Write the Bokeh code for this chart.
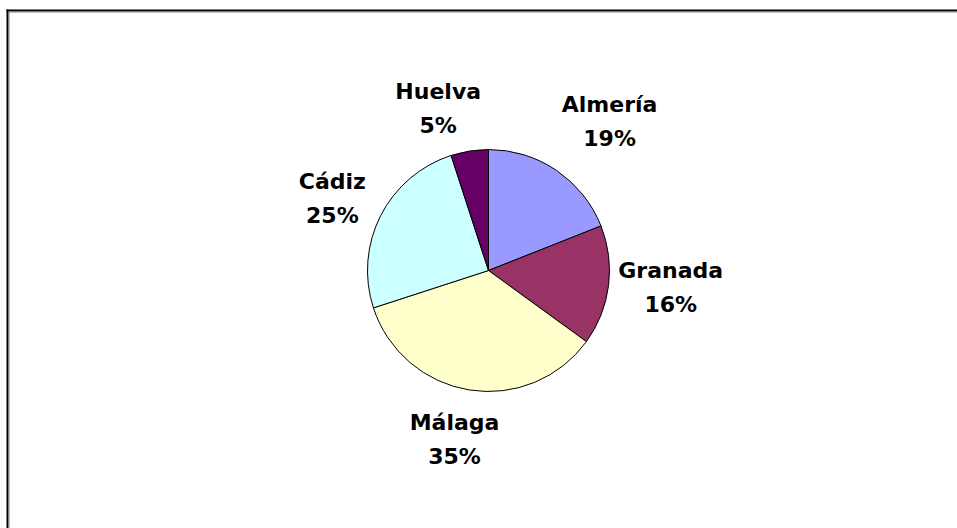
import math
from bokeh.plotting import figure
from bokeh.models import Range1d, ColumnDataSource
from bokeh.core.properties import value
from bokeh.embed import file_html
from bokeh.resources import INLINE

# ---- data ----
provinces = ["Almería", "Granada", "Málaga", "Cádiz", "Huelva"]
shares = [19, 16, 35, 25, 5]
pct_labels = ["19%", "16%", "35%", "25%", "5%"]
colors = ["#9999FF", "#993366", "#FFFFCC", "#CCFFFF", "#660066"]

# ---- layout (pixels) ----
W, H = 957, 528
CX, CY = 488, 258          # pie centre (y measured upward)
R = 121
label_dist = [192, 183, 172, 172, 170]
label_turn = [4.9, -1.9, 2.4, -2.2, -8.2]   # degrees
HALF_GAP = 17
FRAME_L, FRAME_T = 6, 9    # frame position (from left / from top)

total = float(sum(shares))
starts, ends = [], []
acc = 0.0
for s in shares:
    starts.append(acc / total)
    acc += s
    ends.append(acc / total)

start_ang = [math.pi / 2 - 2 * math.pi * f for f in starts]
end_ang = [math.pi / 2 - 2 * math.pi * f for f in ends]

lx, ly_name, ly_pct = [], [], []
for i in range(len(shares)):
    phi = math.radians(360 * (starts[i] + ends[i]) / 2 + label_turn[i])
    x = CX + label_dist[i] * math.sin(phi)
    y = CY + label_dist[i] * math.cos(phi)
    lx.append(x)
    ly_name.append(y + HALF_GAP)
    ly_pct.append(y - HALF_GAP)

src = ColumnDataSource(dict(
    x=[CX] * len(shares), y=[CY] * len(shares),
    start=start_ang, end=end_ang, color=colors,
    lx=lx, ly_name=ly_name, ly_pct=ly_pct,
    name=provinces, pct=pct_labels,
))

p = figure(width=W, height=H, x_range=Range1d(0, W), y_range=Range1d(0, H),
           output_backend="svg", toolbar_location=None,
           x_axis_location=None, y_axis_location=None,
           min_border=0, tools="")
p.xgrid.visible = False
p.ygrid.visible = False
p.outline_line_color = None
p.background_fill_color = "white"
p.border_fill_color = "white"

# frame (top and left edges; right/bottom fall outside the view)
top = H - FRAME_T
p.quad(left=FRAME_L, right=W + 10, bottom=top - 2, top=top, fill_color="black", line_color=None)
p.quad(left=FRAME_L + 2, right=W + 10, bottom=top - 3, top=top - 2, fill_color="#808080", line_color=None)
p.quad(left=FRAME_L, right=FRAME_L + 2, bottom=-10, top=top, fill_color="black", line_color=None)
p.quad(left=FRAME_L + 2, right=FRAME_L + 3, bottom=-10, top=top - 2, fill_color="#808080", line_color=None)

p.wedge(x="x", y="y", radius=R, start_angle="start", end_angle="end",
        direction="clock", fill_color="color", line_color="black",
        line_width=1, source=src)

p.text(x="lx", y="ly_name", text="name", source=src,
       text_font=value("DejaVu Sans"), text_font_style="bold",
       text_font_size="22px", text_align="center", text_baseline="middle",
       text_color="black")
p.text(x="lx", y="ly_pct", text="pct", source=src,
       text_font=value("DejaVu Sans"), text_font_style="bold",
       text_font_size="22px", text_align="center", text_baseline="middle",
       text_color="black")

open("out.html", "w").write(file_html(p, INLINE))
